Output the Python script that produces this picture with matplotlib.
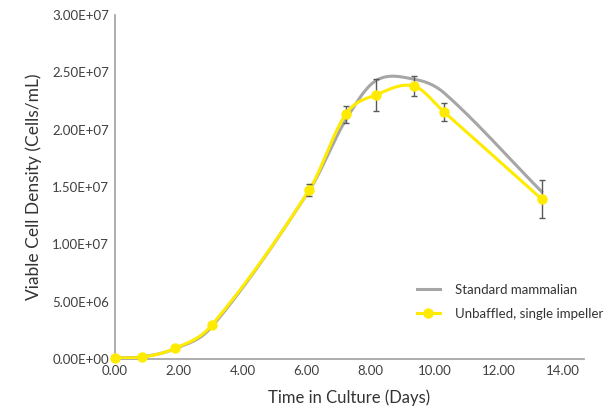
import matplotlib
matplotlib.use('Agg')
import matplotlib.pyplot as plt
from matplotlib.ticker import FormatStrFormatter
import numpy as np

plt.rcParams['font.family'] = ['Lato', 'DejaVu Sans']

# data
days = [0.0, 0.87, 1.88, 3.03, 6.08, 7.22, 8.16, 9.34, 10.30, 13.34]
standard = [0.10e6, 0.20e6, 0.90e6, 2.80e6, 14.7e6, 20.85e6, 24.28e6, 24.42e6, 23.2e6, 14.6e6]
unbaffled = [0.10e6, 0.17e6, 0.93e6, 2.94e6, 14.75e6, 21.35e6, 23.04e6, 23.82e6, 21.53e6, 13.96e6]
unbaffled_err = [0, 0, 0, 0, 0.51e6, 0.76e6, 1.37e6, 0.86e6, 0.80e6, 1.63e6]


def smooth(x, y, n=30):
    # cubic hermite through the points, tangents from neighbours
    x = np.asarray(x, float)
    y = np.asarray(y, float)
    m = np.zeros_like(y)
    m[0] = (y[1] - y[0]) / (x[1] - x[0])
    m[-1] = (y[-1] - y[-2]) / (x[-1] - x[-2])
    m[1:-1] = (y[2:] - y[:-2]) / (x[2:] - x[:-2])
    xs, ys = [], []
    t = np.linspace(0, 1, n)
    for i in range(len(x) - 1):
        h = x[i + 1] - x[i]
        h00 = 2 * t ** 3 - 3 * t ** 2 + 1
        h10 = t ** 3 - 2 * t ** 2 + t
        h01 = -2 * t ** 3 + 3 * t ** 2
        h11 = t ** 3 - t ** 2
        xs.extend(x[i] + t * h)
        ys.extend(h00 * y[i] + h10 * h * m[i] + h01 * y[i + 1] + h11 * h * m[i + 1])
    return xs, ys


fig = plt.figure(figsize=(6.14, 4.09), dpi=100)
ax = fig.add_axes([0.1865, 0.122, 0.7645, 0.841])

gx, gy = smooth(days, standard)
ax.plot(gx, gy, color='#a6a6a6', lw=2.2, label='Standard mammalian', zorder=2)

yx, yy = smooth(days, unbaffled)
ax.plot(yx, yy, color='#ffeb00', lw=2.2, zorder=3)
ax.errorbar(days, unbaffled, yerr=unbaffled_err, fmt='none', ecolor='#595959',
            elinewidth=1, capsize=2.5, capthick=1, zorder=4)
ax.plot(days, unbaffled, 'o', color='#ffeb00', ms=6.5, zorder=5, clip_on=False)
ax.plot([], [], '-o', color='#ffeb00', lw=2.2, ms=6.5, label='Unbaffled, single impeller')

ax.set_xlim(0, 14.66)
ax.set_ylim(0, 3.0e7)
ax.set_xticks([0, 2, 4, 6, 8, 10, 12, 14])
ax.set_yticks(np.arange(0, 3.01e7, 5e6))
ax.xaxis.set_major_formatter(FormatStrFormatter('%.2f'))
ax.yaxis.set_major_formatter(FormatStrFormatter('%.2E'))
ax.tick_params(length=0, labelsize=9.5, colors='#404040', pad=4)

for s in ['top', 'right']:
    ax.spines[s].set_visible(False)
for s in ['left', 'bottom']:
    ax.spines[s].set_color('#a0a0a0')
    ax.spines[s].set_linewidth(1.2)

ax.set_xlabel('Time in Culture (Days)', fontsize=12, color='#333333', labelpad=9)
ax.set_ylabel('Viable Cell Density (Cells/mL)', fontsize=12.5, color='#333333', labelpad=7)

ax.legend(loc='upper left', bbox_to_anchor=(0.66, 0.335), bbox_transform=fig.transFigure,
          frameon=False, fontsize=9.5, labelcolor='#333333', handlelength=1.7,
          handletextpad=1.2, labelspacing=0.9)

fig.savefig('out.png', dpi=100)
